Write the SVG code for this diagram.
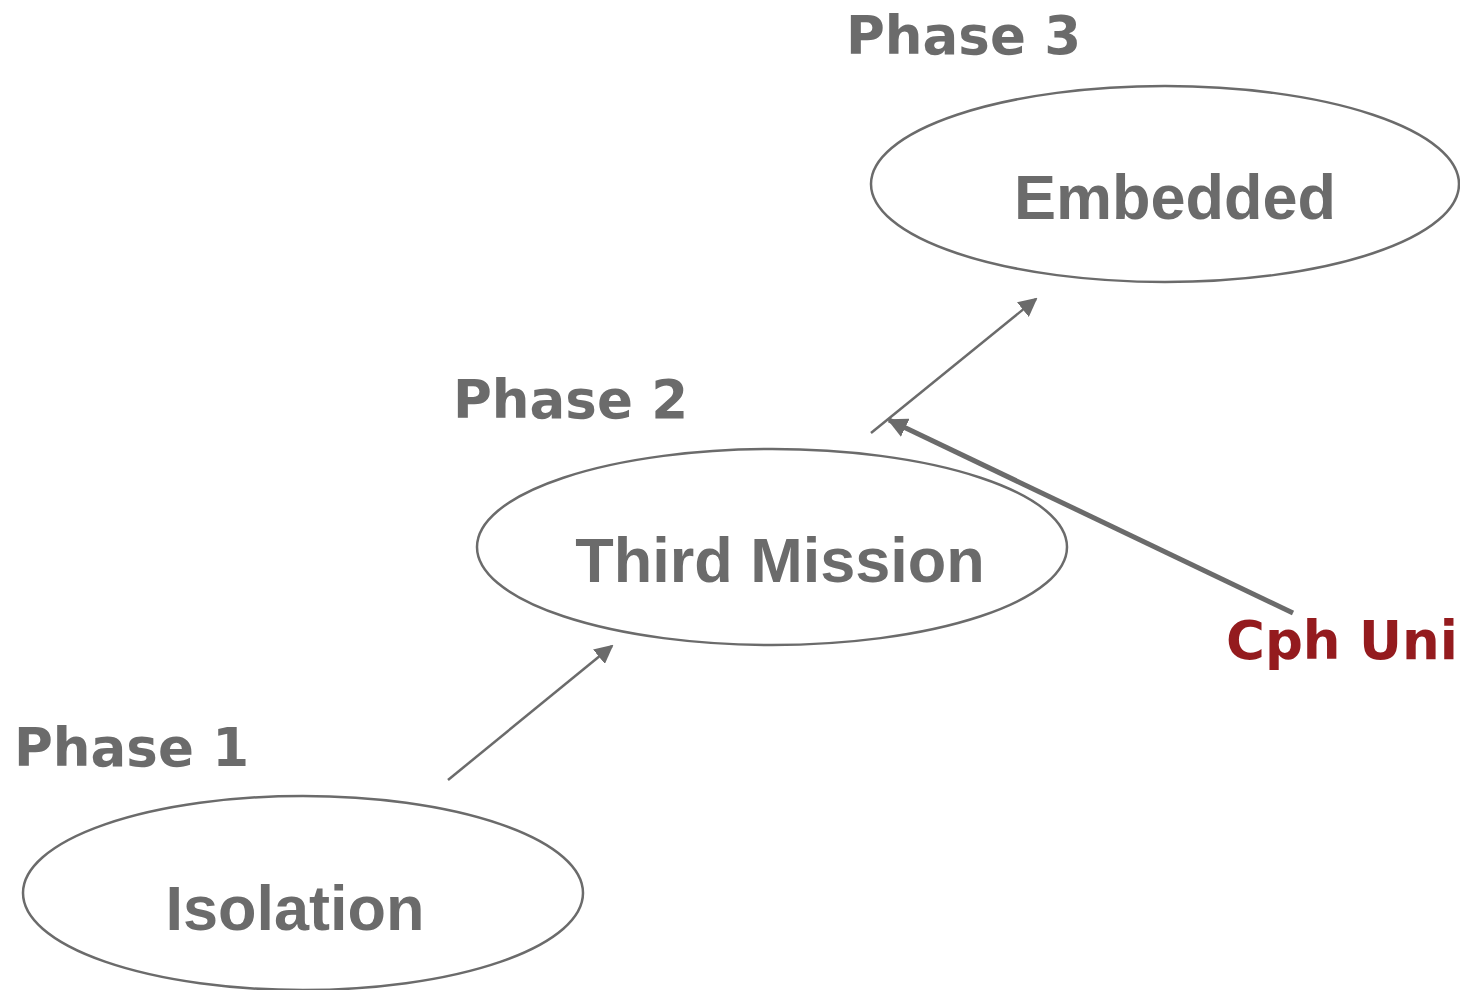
<svg xmlns="http://www.w3.org/2000/svg" width="1460" height="990" viewBox="0 0 1460 990">
<style>
.node{fill:none;stroke:#6b6b6b;stroke-width:2.5}
.lbl{font-family:"Liberation Sans",Arial,sans-serif;font-weight:bold;font-size:63px;fill:#6b6b6b;text-anchor:middle}
.phase{font-family:"DejaVu Sans",Verdana,sans-serif;font-weight:bold;font-size:53px;fill:#6b6b6b}
.cph{font-family:"DejaVu Sans",Verdana,sans-serif;font-weight:bold;font-size:53px;fill:#941b1e}
.conn{stroke:#6b6b6b;fill:none}
</style>
<defs>
<marker id="ah" viewBox="0 0 10 10" refX="9" refY="5" markerWidth="7.5" markerHeight="7.5" markerUnits="strokeWidth" orient="auto">
<path d="M0,0 L10,5 L0,10 Z" fill="#6b6b6b"/>
</marker>
<marker id="ah2" viewBox="0 0 10 10" refX="9" refY="5" markerWidth="4" markerHeight="4" markerUnits="strokeWidth" orient="auto">
<path d="M0,0 L10,5 L0,10 Z" fill="#6b6b6b"/>
</marker>
</defs>
<g id="connectors">
<line class="conn" x1="448" y1="780" x2="612" y2="646" stroke-width="2.5" marker-end="url(#ah)"/>
<line class="conn" x1="871" y1="433" x2="1036" y2="299" stroke-width="2.5" marker-end="url(#ah)"/>
<line class="conn" x1="1293" y1="613" x2="889" y2="420" stroke-width="5" marker-end="url(#ah2)"/>
</g>
<g id="embedded">
<ellipse class="node" cx="1165" cy="184" rx="294" ry="98"/>
<text class="lbl" x="1175" y="219">Embedded</text>
</g>
<g id="third-mission">
<ellipse class="node" cx="772" cy="547" rx="295" ry="98"/>
<text class="lbl" x="780" y="582">Third Mission</text>
</g>
<g id="isolation">
<ellipse class="node" cx="303" cy="893" rx="280" ry="97"/>
<text class="lbl" x="295" y="930">Isolation</text>
</g>
<g id="phase3"><text class="phase" x="846" y="54">Phase 3</text></g>
<g id="phase2"><text class="phase" x="453" y="418">Phase 2</text></g>
<g id="phase1"><text class="phase" x="14" y="766">Phase 1</text></g>
<g id="cph-uni"><text class="cph" x="1226" y="659">Cph Uni</text></g>
</svg>
